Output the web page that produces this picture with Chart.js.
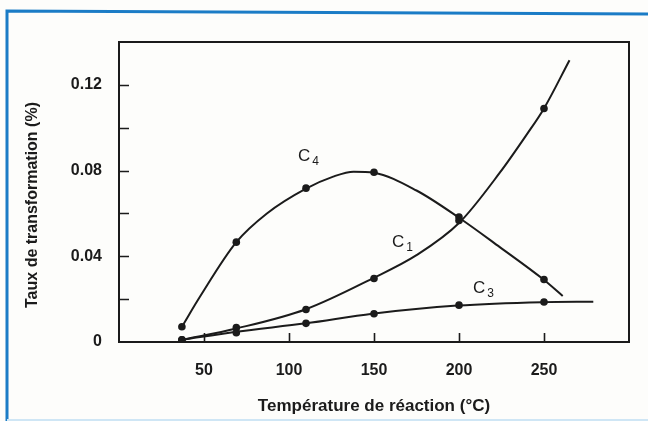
<!DOCTYPE html>
<html>
<head>
<meta charset="utf-8">
<script src="https://cdn.jsdelivr.net/npm/chart.js@4/dist/chart.umd.min.js"></script>
<style>
  html, body { margin: 0; padding: 0; background: #fdfdfb; }
  #wrap { width: 648px; height: 421px; }
</style>
</head>
<body>
<div id="wrap"><canvas id="c" width="648" height="421"></canvas></div>
<script>
// ---- data ----
const tempPoints = [37, 69, 110, 150, 200, 250];           // measured temperatures (°C)
const c4Points   = [0.0071, 0.0466, 0.0718, 0.0792, 0.0583, 0.0292];
const c1Points   = [0.0010, 0.0067, 0.0152, 0.0296, 0.0567, 0.1090];
const c3Points   = [0.0010, 0.0043, 0.0087, 0.0132, 0.0172, 0.0187];

// fitted curves as drawn in the reference
const c4CurveT = [37, 47.6, 69, 87, 110, 126, 138, 150, 175, 200, 224, 249, 261];
const c4CurveY = [0.0071, 0.0211, 0.0466, 0.0600, 0.0716, 0.0772, 0.0795, 0.0790, 0.0707, 0.0580, 0.0443, 0.0296, 0.0215];
const c1CurveT = [37, 69, 110, 149, 175, 200, 224, 240, 250, 265];
const c1CurveY = [0.0010, 0.0063, 0.0153, 0.0296, 0.0405, 0.0555, 0.0790, 0.0970, 0.1090, 0.1315];
const c3CurveT = [37, 69, 110, 149, 199, 249, 279];
const c3CurveY = [0.0010, 0.0048, 0.0087, 0.0132, 0.0170, 0.0186, 0.0188];

const xTickLabels = ['50', '100', '150', '200', '250'];
const yTickLabels = ['0', '0.04', '0.08', '0.12'];

const curveNames = ['C', 'C', 'C'];
const curveSubs  = ['4', '1', '3'];
const curveLabelT = [105.3, 160.6, 208.2];
const curveLabelY = [0.0846, 0.0442, 0.0228];

const xTitle = 'Température de réaction (°C)';
const yTitle = 'Taux de transformation (%)';

// ---- helpers ----
const toXY = (xs, ys) => xs.map((x, i) => ({ x: x, y: ys[i] }));
const INK = '#1b1b1b';
const FONT = '"Liberation Sans", Arial, Helvetica, sans-serif';

const decorPlugin = {
  id: 'decor',
  beforeDraw(chart) {
    const ctx = chart.ctx;
    ctx.save();
    ctx.fillStyle = '#fdfdfb';
    ctx.fillRect(0, 0, chart.width, chart.height);
    // blue frame
    ctx.strokeStyle = '#1b7cc6';
    ctx.lineWidth = 3;
    ctx.beginPath();
    ctx.moveTo(7, 421);
    ctx.lineTo(7, 11);
    ctx.lineTo(648, 14);
    ctx.stroke();
    ctx.strokeStyle = '#cfe6f5';
    ctx.lineWidth = 2;
    ctx.beginPath();
    ctx.moveTo(7, 420);
    ctx.lineTo(648, 420);
    ctx.stroke();
    ctx.restore();
  },
  afterDraw(chart) {
    const ctx = chart.ctx;
    const a = chart.chartArea;
    const xs = chart.scales.x, ys = chart.scales.y;
    ctx.save();
    ctx.strokeStyle = INK;
    ctx.lineWidth = 2;
    ctx.strokeRect(a.left, a.top, a.right - a.left, a.bottom - a.top);
    // inward ticks
    ctx.lineWidth = 1.6;
    ctx.beginPath();
    xs.ticks.forEach(t => {
      if (t.value <= xs.min || t.value >= xs.max) return;
      const px = Math.round(xs.getPixelForValue(t.value)) + 0.5;
      ctx.moveTo(px, a.bottom);
      ctx.lineTo(px, a.bottom - 9);
    });
    ys.ticks.forEach(t => {
      if (t.value <= ys.min + 1e-9 || t.value >= ys.max - 1e-9) return;
      const py = Math.round(ys.getPixelForValue(t.value)) + 0.5;
      ctx.moveTo(a.left, py);
      ctx.lineTo(a.left + 10, py);
    });
    ctx.stroke();
    // y axis title
    ctx.fillStyle = INK;
    ctx.save();
    ctx.translate(33, 205);
    ctx.rotate(-Math.PI / 2);
    ctx.textAlign = 'center';
    ctx.textBaseline = 'middle';
    ctx.font = 'bold 16px ' + FONT;
    ctx.fillText(yTitle, 0, 0);
    ctx.restore();
    // curve labels
    ctx.textBaseline = 'alphabetic';
    ctx.textAlign = 'left';
    curveNames.forEach((n, i) => {
      const px = xs.getPixelForValue(curveLabelT[i]);
      const py = ys.getPixelForValue(curveLabelY[i]);
      ctx.font = '17px ' + FONT;
      ctx.fillText(n, px, py);
      const w = ctx.measureText(n).width;
      ctx.font = '12px ' + FONT;
      ctx.fillText(curveSubs[i], px + w + 2, py + 4);
    });
    ctx.restore();
  }
};

const lineStyle = {
  type: 'line',
  borderColor: INK,
  borderWidth: 2,
  pointRadius: 0,
  fill: false,
  cubicInterpolationMode: 'monotone'
};
const dotStyle = {
  type: 'scatter',
  backgroundColor: INK,
  borderColor: INK,
  pointRadius: 3.8,
  pointBorderWidth: 0,
  showLine: false
};

new Chart(document.getElementById('c'), {
  data: {
    datasets: [
      Object.assign({ label: 'C4', data: toXY(c4CurveT, c4CurveY) }, lineStyle),
      Object.assign({ label: 'C1', data: toXY(c1CurveT, c1CurveY) }, lineStyle),
      Object.assign({ label: 'C3', data: toXY(c3CurveT, c3CurveY) }, lineStyle),
      Object.assign({ label: 'C4 mesures', data: toXY(tempPoints, c4Points) }, dotStyle),
      Object.assign({ label: 'C1 mesures', data: toXY(tempPoints, c1Points) }, dotStyle),
      Object.assign({ label: 'C3 mesures', data: toXY(tempPoints, c3Points) }, dotStyle)
    ]
  },
  options: {
    responsive: false,
    animation: false,
    devicePixelRatio: 1,
    layout: { padding: { top: 42, right: 18, left: 0, bottom: 0 } },
    plugins: { legend: { display: false }, tooltip: { enabled: false } },
    scales: {
      x: {
        type: 'linear',
        min: 0, max: 300,
        grid: { display: false, drawTicks: false },
        border: { display: false },
        ticks: {
          stepSize: 50,
          padding: 19,
          color: INK,
          font: { family: FONT, size: 16, weight: 'bold' },
          callback: v => xTickLabels.includes(String(v)) ? String(v) : ''
        },
        title: {
          display: true,
          text: xTitle,
          color: INK,
          font: { family: FONT, size: 17, weight: 'bold' },
          padding: { top: 0, bottom: 4 }
        },
        afterFit: s => { s.height = 79; }
      },
      y: {
        type: 'linear',
        min: 0, max: 0.14,
        grid: { display: false, drawTicks: false },
        border: { display: false },
        ticks: {
          stepSize: 0.02,
          padding: 17,
          color: INK,
          font: { family: FONT, size: 16, weight: 'bold' },
          callback: v => {
            const s = String(Math.round(v * 100) / 100);
            return yTickLabels.includes(s) ? s : '';
          }
        },
        title: { display: false, text: yTitle },
        afterFit: s => { s.width = 119; }
      }
    }
  },
  plugins: [decorPlugin]
});
</script>
</body>
</html>
